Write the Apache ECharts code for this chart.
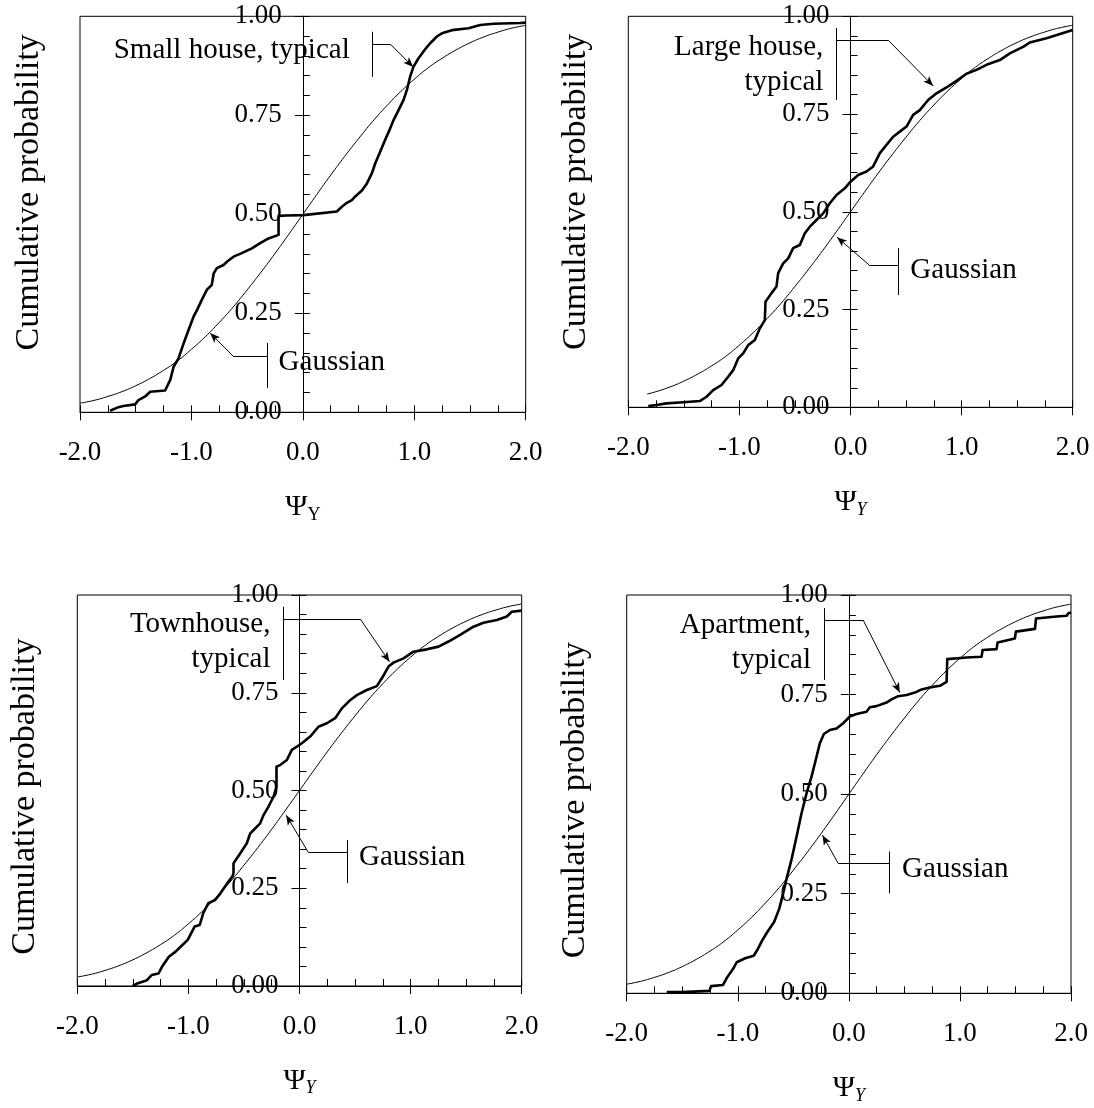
<!DOCTYPE html>
<html><head><meta charset="utf-8">
<script src="https://cdn.jsdelivr.net/npm/echarts@6/dist/echarts.min.js"></script>
<style>html,body{margin:0;padding:0;background:#fff}#c{width:1094px;height:1108px}</style>
</head><body><div id="c"></div>
<script>
// ---------- data ----------
const xTickLabels = ['-2.0', '-1.0', '0.0', '1.0', '2.0'];
const yTickLabels = ['0.00', '0.25', '0.50', '0.75', '1.00'];
const panelTitles = ['Small house, typical', 'Large house,\ntypical', 'Townhouse,\ntypical', 'Apartment,\ntypical'];
const gaussLabel = 'Gaussian';
const yName = 'Cumulative probability';

const gaussX = [-2, -1.875, -1.75, -1.625, -1.5, -1.375, -1.25, -1.125, -1, -0.875, -0.75, -0.625, -0.5, -0.375, -0.25, -0.125, 0,
  0.125, 0.25, 0.375, 0.5, 0.625, 0.75, 0.875, 1, 1.125, 1.25, 1.375, 1.5, 1.625, 1.75, 1.875, 2];
const gaussY = [0.023, 0.030, 0.040, 0.052, 0.067, 0.085, 0.106, 0.130, 0.159, 0.191, 0.227, 0.266, 0.309, 0.354, 0.401, 0.450, 0.500,
  0.550, 0.599, 0.646, 0.691, 0.734, 0.773, 0.809, 0.841, 0.870, 0.894, 0.915, 0.933, 0.948, 0.960, 0.970, 0.977];
const gaussLargeX = [-1.83, -1.75, -1.625, -1.5, -1.375, -1.25, -1.125, -1, -0.875, -0.75, -0.625, -0.5, -0.375, -0.25, -0.125, 0,
  0.125, 0.25, 0.375, 0.5, 0.625, 0.75, 0.875, 1, 1.125, 1.25, 1.375, 1.5, 1.625, 1.75, 1.875, 2];
const gaussLargeY = [0.034, 0.040, 0.052, 0.067, 0.085, 0.106, 0.130, 0.159, 0.191, 0.227, 0.266, 0.309, 0.354, 0.401, 0.450, 0.500,
  0.550, 0.599, 0.646, 0.691, 0.734, 0.773, 0.809, 0.841, 0.870, 0.894, 0.915, 0.933, 0.948, 0.960, 0.970, 0.977];

const smallHouse = [[-1.73,0.004],[-1.655,0.013],[-1.61,0.016],[-1.505,0.02],[-1.475,0.031],[-1.415,0.04],[-1.37,0.052],[-1.236,0.055],
  [-1.19,0.082],[-1.16,0.115],[-1.116,0.136],[-1.07,0.174],[-1.026,0.208],[-0.98,0.242],[-0.95,0.258],[-0.907,0.284],[-0.862,0.309],
  [-0.817,0.322],[-0.80,0.351],[-0.772,0.364],[-0.712,0.372],[-0.682,0.38],[-0.622,0.393],[-0.548,0.402],[-0.458,0.414],[-0.383,0.427],
  [-0.308,0.439],[-0.218,0.448],[-0.218,0.496],[-0.144,0.497],[0.006,0.498],[0.305,0.507],[0.35,0.519],[0.395,0.529],[0.44,0.536],
  [0.47,0.545],[0.53,0.56],[0.575,0.578],[0.62,0.604],[0.65,0.629],[0.694,0.658],[0.739,0.688],[0.784,0.717],[0.814,0.738],[0.859,0.763],
  [0.904,0.789],[0.934,0.814],[0.963,0.848],[0.993,0.873],[1.038,0.894],[1.098,0.917],[1.143,0.932],[1.203,0.949],[1.248,0.957],
  [1.338,0.965],[1.487,0.97],[1.592,0.978],[1.712,0.981],[1.951,0.983],[2.0,0.984]];
const largeHouse = [[-1.82,0.003],[-1.746,0.006],[-1.656,0.01],[-1.506,0.013],[-1.356,0.016],[-1.296,0.027],[-1.236,0.044],[-1.161,0.057],
  [-1.101,0.078],[-1.056,0.095],[-1.011,0.125],[-0.966,0.138],[-0.921,0.159],[-0.861,0.172],[-0.816,0.202],[-0.771,0.223],[-0.765,0.27],
  [-0.711,0.292],[-0.666,0.309],[-0.651,0.343],[-0.606,0.368],[-0.561,0.381],[-0.516,0.407],[-0.456,0.415],[-0.411,0.445],[-0.366,0.462],
  [-0.306,0.479],[-0.246,0.496],[-0.186,0.522],[-0.126,0.543],[-0.051,0.56],[0,0.577],[0.069,0.594],[0.144,0.603],[0.204,0.616],
  [0.264,0.65],[0.324,0.671],[0.384,0.692],[0.444,0.705],[0.504,0.718],[0.564,0.748],[0.624,0.76],[0.699,0.786],[0.774,0.803],
  [0.864,0.818],[0.954,0.835],[1.044,0.853],[1.134,0.863],[1.224,0.876],[1.344,0.888],[1.434,0.905],[1.554,0.922],[1.614,0.933],
  [1.764,0.944],[1.914,0.957],[2.0,0.965]];
const townhouse = [[-1.502,0],[-1.455,0.007],[-1.378,0.014],[-1.331,0.028],[-1.269,0.032],[-1.238,0.049],[-1.176,0.075],[-1.115,0.088],
  [-1.068,0.101],[-1.006,0.118],[-0.944,0.152],[-0.898,0.156],[-0.867,0.186],[-0.82,0.212],[-0.759,0.22],[-0.712,0.237],[-0.65,0.263],
  [-0.604,0.28],[-0.594,0.288],[-0.594,0.314],[-0.534,0.339],[-0.474,0.365],[-0.444,0.39],[-0.354,0.416],[-0.324,0.437],[-0.279,0.459],
  [-0.234,0.484],[-0.207,0.51],[-0.207,0.561],[-0.174,0.565],[-0.114,0.578],[-0.069,0.604],[-0.024,0.612],[0.021,0.621],[0.096,0.638],
  [0.171,0.663],[0.246,0.672],[0.321,0.685],[0.381,0.71],[0.456,0.731],[0.516,0.744],[0.606,0.757],[0.696,0.767],[0.741,0.787],
  [0.801,0.817],[0.846,0.827],[0.936,0.838],[1.026,0.855],[1.146,0.861],[1.251,0.868],[1.341,0.881],[1.446,0.898],[1.566,0.919],
  [1.656,0.929],[1.776,0.936],[1.866,0.945],[1.911,0.957],[2.0,0.96]];
const apartment = [[-1.639,0.003],[-1.5,0.003],[-1.256,0.006],[-1.24,0.018],[-1.133,0.021],[-1.102,0.037],[-1.071,0.05],[-1.04,0.062],
  [-1.01,0.078],[-0.933,0.088],[-0.857,0.094],[-0.826,0.108],[-0.78,0.133],[-0.734,0.154],[-0.673,0.179],[-0.627,0.212],[-0.596,0.246],
  [-0.565,0.283],[-0.517,0.335],[-0.471,0.393],[-0.426,0.452],[-0.381,0.502],[-0.336,0.544],[-0.291,0.594],[-0.261,0.628],[-0.225,0.651],
  [-0.171,0.661],[-0.111,0.665],[-0.051,0.678],[0.009,0.695],[0.069,0.701],[0.159,0.707],[0.189,0.718],[0.249,0.721],[0.339,0.73],
  [0.384,0.738],[0.444,0.746],[0.52,0.749],[0.595,0.755],[0.655,0.763],[0.73,0.768],[0.82,0.772],[0.88,0.782],[0.886,0.839],[1.06,0.843],
  [1.195,0.845],[1.204,0.862],[1.33,0.864],[1.339,0.881],[1.495,0.891],[1.504,0.908],[1.676,0.915],[1.685,0.941],[1.871,0.946],
  [1.961,0.948],[1.976,0.954],[2.0,0.956]];

// ---------- layout (pixels) and annotation anchors (data coords) ----------
const FONT = '"Liberation Serif","Times New Roman",serif';
const layouts = [
  {left: 80,    top: 16.3, width: 445.7, height: 396,   yShift: -22, italic: false},
  {left: 628.3, top: 16.3, width: 444.4, height: 391,   yShift: -20, italic: true},
  {left: 77.3,  top: 595,  width: 444.4, height: 391,   yShift: 6,   italic: true},
  {left: 626.7, top: 595,  width: 444.3, height: 398.3, yShift: 6,   italic: true}
];
const annots = [
  {t: {at: [0.425, 0.913], bar: [0.622, 0.961, 0.847], elbow: [0.784, 0.930], tip: [0.990, 0.872]},
   g: {at: [-0.222, 0.126], bar: [-0.320, 0.175, 0.061], elbow: [-0.626, 0.142], tip: [-0.832, 0.200]}},
  {t: {at: [-0.240, 0.877], bar: [-0.126, 0.970, 0.786], elbow: [0.339, 0.939], tip: [0.744, 0.822]},
   g: {at: [0.534, 0.350], bar: [0.429, 0.407, 0.287], elbow: [0.168, 0.364], tip: [-0.121, 0.435]}},
  {t: {at: [-0.257, 0.881], bar: [-0.150, 0.970, 0.783], elbow: [0.546, 0.939], tip: [0.810, 0.829]},
   g: {at: [0.531, 0.329], bar: [0.432, 0.373, 0.263], elbow: [0.081, 0.341], tip: [-0.120, 0.437]}},
  {t: {at: [-0.336, 0.879], bar: [-0.222, 0.967, 0.787], elbow: [0.129, 0.937], tip: [0.459, 0.755]},
   g: {at: [0.475, 0.312], bar: [0.363, 0.356, 0.251], elbow: [-0.096, 0.326], tip: [-0.237, 0.397]}}
];
const empData = [smallHouse, largeHouse, townhouse, apartment];
const gaussData = [
  gaussX.map((x, k) => [x, gaussY[k]]),
  gaussLargeX.map((x, k) => [x, gaussLargeY[k]]),
  gaussX.map((x, k) => [x, gaussY[k]]),
  gaussX.map((x, k) => [x, gaussY[k]])
];

function segs(a) {
  return [
    [{coord: [a.bar[0], a.bar[1]]}, {coord: [a.bar[0], a.bar[2]]}],
    [{coord: [a.bar[0], a.elbow[1]]}, {coord: [a.elbow[0], a.elbow[1]]}],
    [{coord: [a.elbow[0], a.elbow[1]]}, {coord: a.tip, symbol: 'arrow', symbolSize: [6, 10]}]
  ];
}

const grid = [], xAxis = [], yAxis = [], series = [];
layouts.forEach((L, i) => {
  grid.push({left: L.left, top: L.top, width: L.width, height: L.height, show: true,
    borderColor: '#000', borderWidth: 1, backgroundColor: 'transparent', containLabel: false, outerBoundsMode: 'none'});
  const black = {color: '#000', width: 1};
  const zeroOffset = -L.width / 2;   // x = 0 sits in the middle of the -2..2 range
  xAxis.push({type: 'value', gridIndex: i, min: -2, max: 2, interval: 0.25, position: 'bottom',
    axisLine: {show: true, onZero: false, lineStyle: black},
    axisTick: {show: true, inside: true, length: 7, lineStyle: black},
    axisLabel: {show: false}, splitLine: {show: false}});
  xAxis.push({type: 'value', gridIndex: i, min: -2, max: 2, interval: 1, position: 'bottom',
    axisLine: {show: false, onZero: false},
    axisTick: {show: true, inside: false, length: 8, lineStyle: black},
    axisLabel: {show: true, margin: 27, fontFamily: FONT, fontSize: 27, color: '#000',
      formatter: v => xTickLabels[Math.round(v) + 2]},
    splitLine: {show: false},
    name: '{a|Ψ}{b|Y}', nameLocation: 'middle', nameGap: 80,
    nameTextStyle: {rich: {
      a: {fontFamily: FONT, fontSize: 30, lineHeight: 30, verticalAlign: 'top', color: '#000'},
      b: {fontFamily: FONT, fontSize: 18, lineHeight: 18, padding: [15, 0, 0, 0], color: '#000',
          fontStyle: L.italic ? 'italic' : 'normal'}
    }}});
  const sh = L.yShift;
  yAxis.push({type: 'value', gridIndex: i, min: 0, max: 1, interval: 0.25, position: 'left', offset: zeroOffset,
    axisLine: {show: true, onZero: false, lineStyle: black},
    axisTick: {show: true, inside: false, length: 8, lineStyle: black},
    axisLabel: {show: true, margin: 21, fontFamily: FONT, fontSize: 27, color: '#000',
      formatter: v => yTickLabels[Math.round(v * 4)]},
    splitLine: {show: false},
    name: yName, nameLocation: 'middle', nameRotate: 90, nameGap: 257,
    nameTextStyle: {fontFamily: FONT, fontSize: 34, color: '#000',
      padding: sh < 0 ? [0, 0, 0, -2 * sh] : [0, 2 * sh, 0, 0]}});
  yAxis.push({type: 'value', gridIndex: i, min: 0, max: 1, interval: 0.05, position: 'left', offset: zeroOffset,
    axisLine: {show: true, onZero: false, lineStyle: black},
    axisTick: {show: true, inside: true, length: 7, lineStyle: black},
    axisLabel: {show: false}, splitLine: {show: false}});

  series.push({type: 'line', xAxisIndex: 2 * i, yAxisIndex: 2 * i, data: empData[i], symbol: 'none',
    lineStyle: {color: '#000', width: 2.6, join: 'round'}, silent: true, z: 4});
  series.push({type: 'line', xAxisIndex: 2 * i, yAxisIndex: 2 * i, data: gaussData[i], symbol: 'none', smooth: true,
    lineStyle: {color: '#000', width: 1}, silent: true, z: 3,
    markLine: {silent: true, symbol: ['none', 'none'], label: {show: false}, emphasis: {disabled: true},
      lineStyle: {color: '#000', width: 1, type: 'solid'}, itemStyle: {color: '#000'},
      data: segs(annots[i].t).concat(segs(annots[i].g))}});
  series.push({type: 'scatter', xAxisIndex: 2 * i, yAxisIndex: 2 * i, symbolSize: 1, silent: true,
    itemStyle: {color: 'rgba(0,0,0,0)'},
    label: {show: true, formatter: '{b}', distance: 0, fontFamily: FONT, fontSize: 29, lineHeight: 35,
      color: '#000', opacity: 1, textBorderWidth: 0},
    data: [
      {value: annots[i].t.at, name: panelTitles[i], label: {position: 'left'}},
      {value: annots[i].g.at, name: gaussLabel, label: {position: 'right'}}
    ]});
});

const chart = echarts.init(document.getElementById('c'), null, {renderer: 'canvas'});
chart.setOption({backgroundColor: '#fff', animation: false, grid, xAxis, yAxis, series});
</script></body></html>
